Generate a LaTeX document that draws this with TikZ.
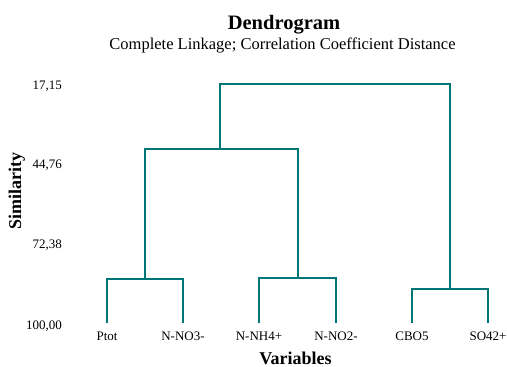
\documentclass[tikz,border=0pt]{standalone}
\usepackage{fontspec}
\setmainfont{Liberation Serif}
\definecolor{dendro}{RGB}{0,118,118}

\begin{document}
\begin{tikzpicture}[x=1pt,y=-1pt,
	branch/.style={draw=dendro,line width=2.2pt,line join=miter},
	leaf/.style={anchor=base,inner sep=0pt,font=\fontsize{13}{15}\selectfont},
	tick/.style={anchor=base east,inner sep=0pt,font=\fontsize{13}{15}\selectfont},
	axlabel/.style={anchor=base,inner sep=0pt,font=\fontsize{18}{21}\selectfont\bfseries}]
\useasboundingbox (0,0) rectangle (507,367);
\node[anchor=base,inner sep=0pt,font=\fontsize{20.5}{24}\selectfont\bfseries] (title) at (284,29.3) {Dendrogram};
\node[anchor=base,inner sep=0pt,font=\fontsize{16.5}{19}\selectfont] (subtitle) at (282.5,49.3) {Complete Linkage; Correlation Coefficient Distance};
% similarity axis
\foreach \lvl/\y in {{17,15}/89, {44,76}/168, {72,38}/248, {100,00}/329}
	\node[tick] at (62,\y) {\lvl};
\node[axlabel,rotate=90] (ylab) at (21,190.6) {Similarity};
\node[axlabel] (xlab) at (295.5,364) {Variables};
% leaves
\foreach \name/\x/\lab in {ptot/107/Ptot, nno3/183/N-NO3-, nnh4/259/N-NH4+, nno2/336/N-NO2-, cbo5/412/CBO5, so4/488/SO42+}{
	\coordinate (\name) at (\x,323);
	\node[leaf] (\name-lab) at (\x,340) {\lab};
}
% merges
\coordinate (m1) at (145,279);
\coordinate (m2) at (298,278);
\coordinate (m3) at (450,289);
\coordinate (m4) at (220,149);
\coordinate (m5) at (335,84);
\draw[branch] (ptot) |- (m1) -| (nno3);
\draw[branch] (nnh4) |- (m2) -| (nno2);
\draw[branch] (cbo5) |- (m3) -| (so4);
\draw[branch] (m1) |- (m4) -| (m2);
\draw[branch] (m4) |- (m5) -| (m3);
\end{tikzpicture}
\end{document}
